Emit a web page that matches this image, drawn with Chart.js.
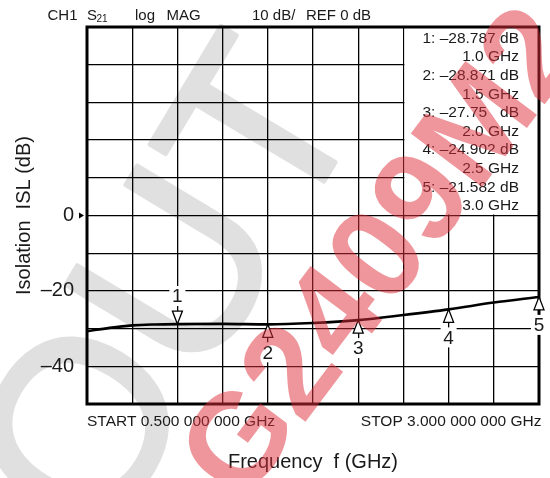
<!DOCTYPE html>
<html>
<head>
<meta charset="utf-8">
<title>Isolation vs Frequency</title>
<script src="https://cdn.jsdelivr.net/npm/chart.js@4.4.0/dist/chart.umd.min.js"></script>
<style>
  html, body { margin: 0; padding: 0; background: #fff; }
  #wrap { width: 550px; height: 478px; }
</style>
</head>
<body>
<div id="wrap"><canvas id="islChart" width="550" height="478"></canvas></div>
<script>
// Isolation (S21) sweep, 0.5 - 3.0 GHz
const freqGHz = [0.5, 0.625, 0.75, 0.875, 1.0, 1.25, 1.5, 1.75, 2.0, 2.25, 2.5, 2.75, 3.0];
const isolationDb = [-30.7, -29.8, -29.15, -28.9, -28.8, -28.75, -28.87, -28.5, -27.75, -26.4, -24.9, -23.1, -21.6];

// Marker readout (top right box)
const markerNo = ['1', '2', '3', '4', '5'];
const markerFreq = [1.0, 1.5, 2.0, 2.5, 3.0];
const markerDb = [-28.787, -28.871, -27.75, -24.902, -21.582];
const markerFreqText = ['1.0 GHz', '1.5 GHz', '2.0 GHz', '2.5 GHz', '3.0 GHz'];

// Axis setup
const yTickLabels = [0, -20, -40];
const yMin = -50, yMax = 50, yStep = 10;
const xMin = 0.5, xMax = 3.0, xStep = 0.25;

const FONT = "'Liberation Sans', Arial, Helvetica, sans-serif";
const INK = '#1a1a1a';

function dash(v) {
    return v < 0 ? '\u2013' + Math.abs(v) : String(v);
}

// rotated watermark text, origin = start of baseline
function stamp(ctx, text, x, y, deg, font, color, extra) {
    ctx.save();
    ctx.translate(x, y);
    ctx.rotate(deg * Math.PI / 180);
    ctx.font = font;
    ctx.textAlign = 'left';
    ctx.textBaseline = 'alphabetic';
    ctx.fillStyle = color;
    ctx.fillText(text, 0, 0);
    if (extra) {
        ctx.strokeStyle = color;
        ctx.lineWidth = extra;
        ctx.lineJoin = 'round';
        ctx.strokeText(text, 0, 0);
    }
    ctx.restore();
}

// Light grey watermark behind the plot
const underlay = {
    id: 'underlay',
    beforeDraw(chart) {
        const ctx = chart.ctx;
        ctx.save();
        ctx.fillStyle = '#fff';
        ctx.fillRect(0, 0, chart.width, chart.height);
        ctx.restore();
        stamp(ctx, 'OUT', 102, 551, -59, `245px ${FONT}`, '#e0e0e0', 4);
    }
};

// Analyzer annotations: frame, marker box, markers, header, start/stop
const annotations = {
    id: 'annotations',
    afterDraw(chart) {
        const ctx = chart.ctx;
        const { left, right, top, bottom } = chart.chartArea;
        const xs = chart.scales.x;
        const ys = chart.scales.y;
        ctx.save();

        // blank area for the marker readout
        const boxL = xs.getPixelForValue(2.25);
        const boxB = ys.getPixelForValue(0);
        ctx.fillStyle = '#fff';
        ctx.fillRect(boxL + 1, top, right - boxL - 1, boxB - top - 1);

        // thick frame
        ctx.strokeStyle = '#000';
        ctx.lineWidth = 3;
        ctx.strokeRect(left, top, right - left, bottom - top);

        // reference level arrow at 0 dB
        const y0 = ys.getPixelForValue(0);
        ctx.fillStyle = '#000';
        ctx.beginPath();
        ctx.moveTo(79, y0 - 3);
        ctx.lineTo(84, y0);
        ctx.lineTo(79, y0 + 3);
        ctx.closePath();
        ctx.fill();

        // markers
        ctx.font = `19px ${FONT}`;
        ctx.textAlign = 'center';
        ctx.textBaseline = 'middle';
        markerFreq.forEach((f, i) => {
            const px = xs.getPixelForValue(f);
            const py = ys.getPixelForValue(markerDb[i]);
            const dir = i === 0 ? -1 : 1;
            // label with white patch
            const ly = py + dir * 28;
            ctx.fillStyle = '#fff';
            ctx.fillRect(px - 8, ly - 10, 16, 20);
            ctx.fillStyle = INK;
            ctx.fillText(markerNo[i], px, ly + 1);
            // triangle, apex on the trace
            ctx.beginPath();
            ctx.moveTo(px, py);
            ctx.lineTo(px - 5, py + dir * 13);
            ctx.lineTo(px + 5, py + dir * 13);
            ctx.closePath();
            ctx.fillStyle = '#fff';
            ctx.fill();
            ctx.lineWidth = 1.3;
            ctx.strokeStyle = '#000';
            ctx.stroke();
        });

        // marker readout text
        ctx.font = `15.5px ${FONT}`;
        ctx.textAlign = 'right';
        ctx.fillStyle = INK;
        markerDb.forEach((v, i) => {
            const s = dash(v);
            const pad = s.length < 7 ? '   ' : ' ';
            const y = 38.5 + i * 37.2;
            ctx.fillText(`${markerNo[i]}: ${s}${pad}dB`, 519, y);
            ctx.fillText(markerFreqText[i], 519, y + 18.6);
        });

        // header line
        ctx.textAlign = 'left';
        ctx.font = `15px ${FONT}`;
        ctx.fillText('CH1', 47.5, 16);
        ctx.fillText('S', 87, 16);
        ctx.fillText('log', 135, 16);
        ctx.fillText('MAG', 166.5, 16);
        ctx.fillText('10 dB/', 252, 16);
        ctx.fillText('REF 0 dB', 306, 16);
        ctx.font = `10px ${FONT}`;
        ctx.fillText('21', 96.5, 19);

        // sweep limits
        ctx.font = `15.5px ${FONT}`;
        ctx.fillText('START 0.500 000 000 GHz', left, 421.5);
        ctx.textAlign = 'right';
        ctx.fillText('STOP 3.000 000 000 GHz', 541.5, 421.5);
        ctx.restore();

        // red watermark over everything
        stamp(ctx, 'G2409M2', 242, 506, -53, `bold 130px ${FONT}`, 'rgba(222, 45, 55, 0.5)', 0);
    }
};

function initIsolationChart() {
    const ctx = document.getElementById('islChart').getContext('2d');

    new Chart(ctx, {
        type: 'line',
        data: {
            datasets: [{
                label: 'Isolation',
                data: freqGHz.map((f, i) => ({ x: f, y: isolationDb[i] })),
                borderColor: '#000',
                borderWidth: 2.6,
                pointRadius: 0,
                cubicInterpolationMode: 'monotone',
                fill: false
            }]
        },
        options: {
            responsive: false,
            animation: false,
            events: [],
            layout: { padding: { top: 27, right: 11, bottom: 0, left: 0 } },
            plugins: {
                legend: { display: false },
                tooltip: { enabled: false }
            },
            scales: {
                x: {
                    type: 'linear',
                    min: xMin,
                    max: xMax,
                    ticks: { display: false, stepSize: xStep, autoSkip: false },
                    grid: { color: '#000', lineWidth: 1.3, drawTicks: false },
                    border: { display: false },
                    title: {
                        display: true,
                        text: 'Frequency  f (GHz)',
                        color: INK,
                        font: { family: FONT, size: 20 },
                        padding: { top: 0, bottom: 4 }
                    },
                    afterFit(scale) { scale.height = 74; }
                },
                y: {
                    min: yMin,
                    max: yMax,
                    ticks: {
                        stepSize: yStep,
                        autoSkip: false,
                        padding: 13,
                        color: INK,
                        font: { family: FONT, size: 20 },
                        callback: v => yTickLabels.includes(v) ? dash(v) : ''
                    },
                    grid: { color: '#000', lineWidth: 1.3, drawTicks: false },
                    border: { display: false },
                    title: {
                        display: true,
                        text: 'Isolation  ISL (dB)',
                        color: INK,
                        font: { family: FONT, size: 20 },
                        padding: { top: 12, bottom: 0 }
                    },
                    afterFit(scale) { scale.width = 87; }
                }
            }
        },
        plugins: [underlay, annotations]
    });
}

document.addEventListener('DOMContentLoaded', initIsolationChart);
</script>
</body>
</html>
